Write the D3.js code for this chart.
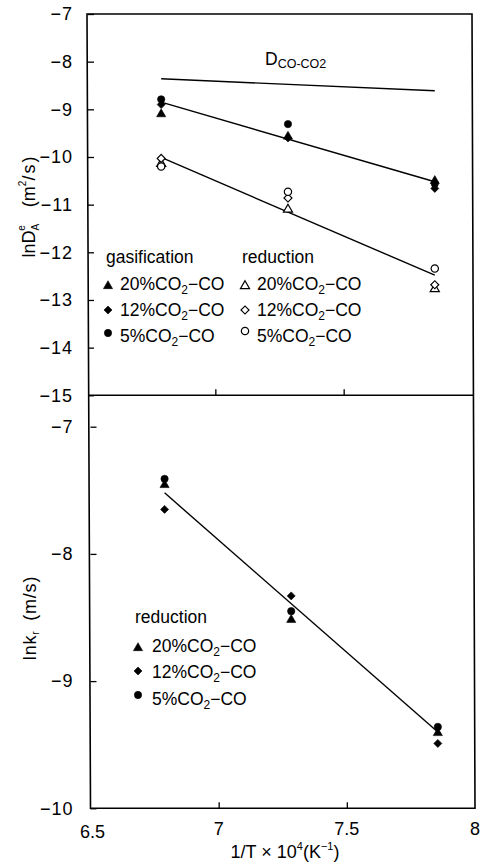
<!DOCTYPE html>
<html><head><meta charset="utf-8">
<script src="https://cdn.jsdelivr.net/npm/d3@7"></script>
<style>
html,body{margin:0;padding:0;background:#fff;}
svg{display:block;font-family:"Liberation Sans",Arial,sans-serif;}
</style></head>
<body><svg id="c" width="485" height="868"></svg>
<script>
// ---- data ----
const invT = [6.789, 7.283, 7.855];
const series = ["20%", "12%", "5%"];
const shapes = ["triangle", "diamond", "circle"];
// top panel: gasification (filled)
const gas20 = [-9.08, -9.55, -10.48];
const gas12 = [-8.90, -9.60, -10.66];
const gas5  = [-8.79, -9.31, -10.56];
// top panel: reduction (open)
const red20 = [-10.12, -11.08, -12.75];
const red12 = [-10.03, -10.86, -12.68];
const red5  = [-10.20, -10.73, -12.34];
// fitted lines (end points)
const fitX = [6.789, 7.855];
const dCoCo2 = [-8.36, -8.61];
const gasFit = [-8.85, -10.52];
const redFit = [-10.01, -12.48];
// bottom panel: ln kr reduction
const kr20 = [-7.45, -8.51, -9.40];
const kr12 = [-7.65, -8.33, -9.49];
const kr5  = [-7.41, -8.45, -9.36];
const krFit = [-7.52, -9.40];
// ticks
const topYTicks = [-7, -8, -9, -10, -11, -12, -13, -14, -15];
const botYTicks = [-7, -8, -9, -10];
const xTickVals = [6.5, 7, 7.5, 8];
const xTickLabels = ["6.5", "7", "7.5", "8"];

// ---- scales ----
const xTop = d3.scaleLinear().domain([6.5, 8]).range([87, 472]);
const xBot = d3.scaleLinear().domain([6.5, 8]).range([90.5, 475]);
const yTop = d3.scaleLinear().domain([-15, -7]).range([395.3, 14]);
const yBot = d3.scaleLinear().domain([-10, -7]).range([808.3, 426.7]);

const svg = d3.select("#c");
const FS = 17.5;

// frame (slightly skewed like the scan)
const L0 = [xTop(6.5), yTop(-7)], R0 = [xTop(8), yTop(-7)];
const L1 = [xBot(6.5), yBot(-10)], R1 = [xBot(8), yBot(-10)];
svg.append("path")
  .attr("d", d3.line()([L0, R0, R1, L1, L0]) + "Z")
  .attr("fill", "none").attr("stroke", "#000").attr("stroke-width", 1.6);
const yDiv = yTop(-15);
const fr = (yDiv - L0[1]) / (L1[1] - L0[1]);
const lx = L0[0] + fr * (L1[0] - L0[0]), rx = R0[0] + fr * (R1[0] - R0[0]);
svg.append("line").attr("x1", lx).attr("x2", rx).attr("y1", yDiv).attr("y2", yDiv)
  .attr("stroke", "#000").attr("stroke-width", 1.6);

// axes
function styleAxis(g) {
  g.select(".domain").remove();
  g.selectAll(".tick line").attr("stroke", "#000").attr("stroke-width", 1.3);
  g.selectAll(".tick text").attr("fill", "#000").attr("font-size", 18)
    .attr("letter-spacing", 1)
    .attr("font-family", "Liberation Sans, Arial, sans-serif");
}
const fmtMinus = d => String(d).replace("-", "\u2212");
svg.append("g").attr("transform", "translate(88,0)")
  .call(d3.axisLeft(yTop).tickValues(topYTicks).tickSize(-6).tickPadding(15).tickFormat(fmtMinus))
  .call(styleAxis);
svg.append("g").attr("transform", "translate(90.5,0)")
  .call(d3.axisLeft(yBot).tickValues(botYTicks).tickSize(-6).tickPadding(17).tickFormat(fmtMinus))
  .call(styleAxis);
// top panel x ticks on divider (no labels)
svg.append("g").attr("transform", `translate(0,${yDiv})`)
  .call(d3.axisBottom(xTop).tickValues([7, 7.5]).tickSize(-6).tickFormat(""))
  .call(styleAxis);
// bottom x axis
svg.append("g").attr("transform", `translate(0,${yBot(-10)})`)
  .call(d3.axisBottom(xBot).tickValues([7, 7.5]).tickSize(-6).tickFormat(""))
  .call(styleAxis);
const xLabDy = [30, 27, 27, 27];
svg.append("g").selectAll("text").data(xTickVals).join("text")
  .attr("x", (d, i) => xBot(d) + (i === 0 ? 2 : 0))
  .attr("y", (d, i) => yBot(-10) + xLabDy[i])
  .attr("text-anchor", "middle").attr("font-size", 18)
  .text((d, i) => xTickLabels[i]);

// x title
const xt = svg.append("text").attr("x", 285).attr("y", 858).attr("text-anchor", "middle").attr("font-size", 18);
xt.append("tspan").text("1/T \u00d7 10");
xt.append("tspan").attr("font-size", 11).attr("dy", -8).text("4");
xt.append("tspan").attr("dy", 8).text("(K");
xt.append("tspan").attr("font-size", 11).attr("dy", -8).text("\u22121");
xt.append("tspan").attr("dy", 8).text(")");

// y titles
const yt1 = svg.append("text").attr("transform", "translate(35,206) rotate(-90)")
  .attr("text-anchor", "middle").attr("font-size", 18);
yt1.append("tspan").text("lnD");
yt1.append("tspan").attr("font-size", 10).attr("dy", 4).text("A");
yt1.append("tspan").attr("font-size", 10).attr("dx", -7).attr("dy", -14).text("e");
yt1.append("tspan").attr("dy", 10).text("\u2003(m");
yt1.append("tspan").attr("font-size", 10).attr("dy", -9).text("2");
yt1.append("tspan").attr("dy", 9).attr("letter-spacing", 2).text("/s)");

const yt2 = svg.append("text").attr("transform", "translate(36,618) rotate(-90)")
  .attr("text-anchor", "middle").attr("font-size", 18).attr("letter-spacing", 0.8);
yt2.append("tspan").text("lnk");
yt2.append("tspan").attr("font-size", 10).attr("dy", 3).text("r");
yt2.append("tspan").attr("dy", -3).text("\u2002(m/s)");

// lines
function fitLine(xs, ys, xs_scale, ys_scale) {
  svg.append("path")
    .attr("d", d3.line().x(d => xs_scale(d[0])).y(d => ys_scale(d[1]))(xs.map((x, i) => [x, ys[i]])))
    .attr("fill", "none").attr("stroke", "#000").attr("stroke-width", 1.4);
}
fitLine(fitX, dCoCo2, xTop, yTop);
fitLine(fitX, gasFit, xTop, yTop);
fitLine(fitX, redFit, xTop, yTop);
fitLine(fitX, krFit, xBot, yBot);

// D label
const dl = svg.append("text").attr("x", 265).attr("y", 65).attr("font-size", 17.5);
dl.append("tspan").text("D");
dl.append("tspan").attr("font-size", 12.5).attr("dy", 3).text("CO-CO2");

// markers
const symFor = {
  triangle: d3.symbol().type(d3.symbolTriangle).size(36)(),
  diamond: d3.symbol().type(d3.symbolSquare).size(32)(),
  circle: d3.symbol().type(d3.symbolCircle).size(42)()
};
function marker(g, x, y, shape, filled) {
  g.append("path").attr("d", symFor[shape])
    .attr("transform", `translate(${x},${y + (shape === "triangle" ? 1 : 0)})` + (shape === "diamond" ? " rotate(45)" : ""))
    .attr("fill", filled ? "#000" : "#fff").attr("stroke", "#000").attr("stroke-width", filled ? 0.6 : 1.2);
}
function plotSeries(vals, shape, filled, xs, ys) {
  const g = svg.append("g");
  vals.forEach((v, i) => marker(g, xs(invT[i]), ys(v), shape, filled));
}
plotSeries(red20, "triangle", false, xTop, yTop);
plotSeries(red12, "diamond", false, xTop, yTop);
plotSeries(red5, "circle", false, xTop, yTop);
plotSeries(gas20, "triangle", true, xTop, yTop);
plotSeries(gas12, "diamond", true, xTop, yTop);
plotSeries(gas5, "circle", true, xTop, yTop);
plotSeries(kr20, "triangle", true, xBot, yBot);
plotSeries(kr12, "diamond", true, xBot, yBot);
plotSeries(kr5, "circle", true, xBot, yBot);

// legends
function legendText(x, y, pct) {
  const t = svg.append("text").attr("x", x).attr("y", y).attr("font-size", FS);
  t.append("tspan").text(pct + "CO");
  t.append("tspan").attr("font-size", 12).attr("dy", 4).text("2");
  t.append("tspan").attr("dy", -4).text("\u2212CO");
}
svg.append("text").attr("x", 106).attr("y", 263).attr("font-size", FS).text("gasification");
svg.append("text").attr("x", 242).attr("y", 263).attr("font-size", FS).text("reduction");
const topRowY = [290, 316, 342];
const topMarkY = [285, 310, 333];
series.forEach((s, i) => {
  const g = svg.append("g");
  marker(g, 108, topMarkY[i], shapes[i], true);
  marker(g, 245, topMarkY[i] - (i === 2 ? 2 : 0), shapes[i], false);
  legendText(120, topRowY[i], s);
  legendText(257, topRowY[i], s);
});
svg.append("text").attr("x", 135).attr("y", 623).attr("font-size", FS).text("reduction");
const botRowY = [652, 678, 705];
const botMarkY = [647, 671, 695];
series.forEach((s, i) => {
  const g = svg.append("g");
  marker(g, 138, botMarkY[i], shapes[i], true);
  legendText(152, botRowY[i], s);
});
</script></body></html>
